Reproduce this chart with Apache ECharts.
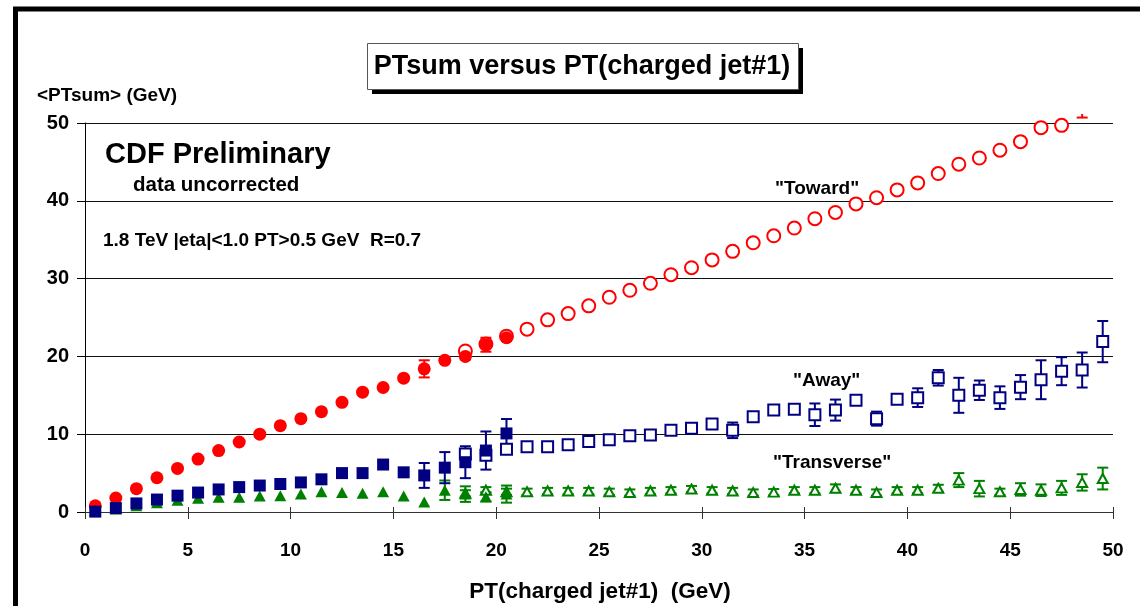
<!DOCTYPE html>
<html><head><meta charset="utf-8">
<script src="https://cdn.jsdelivr.net/npm/echarts@6/dist/echarts.min.js"></script>
<style>html,body{margin:0;padding:0;background:#fff}#c{width:1140px;height:606px}</style>
</head><body><div id="c"></div>
<script>
// ---- data ----
const xLow = [0.5,1.5,2.5,3.5,4.5,5.5,6.5,7.5,8.5,9.5,10.5,11.5,12.5,13.5,14.5,15.5,16.5,17.5,18.5,19.5,20.5];
const xHigh = [18.5,19.5,20.5,21.5,22.5,23.5,24.5,25.5,26.5,27.5,28.5,29.5,30.5,31.5,32.5,33.5,34.5,35.5,36.5,37.5,38.5,39.5,40.5,41.5,42.5,43.5,44.5,45.5,46.5,47.5,48.5,49.5];

const towardLow = [0.8,1.8,3.0,4.4,5.6,6.8,7.9,9.0,10.0,11.1,12.0,12.9,14.1,15.4,16.0,17.2,18.4,19.5,20.0,21.5,22.4];
const towardLowErr = [0,0,0,0,0,0,0,0,0,0,0,0,0,0,0,0,1.1,0,0.4,0.9,0.4];
const towardHigh = [20.7,21.6,22.6,23.5,24.7,25.5,26.5,27.6,28.5,29.4,30.5,31.4,32.4,33.5,34.6,35.5,36.5,37.7,38.5,39.6,40.4,41.4,42.3,43.5,44.7,45.5,46.5,47.6,49.4,49.7,52.5,null];
const towardHighErr = [0,0,0,0,0,0,0,0,0,0,0,0,0,0,0,0,0,0,0,0,0,0,0,0,0,0,0,0,0,0,1.8,0];

const awayLow = [0.05,0.5,1.1,1.6,2.1,2.5,2.9,3.2,3.4,3.6,3.8,4.2,5.0,5.0,6.1,5.1,4.7,5.7,6.4,7.9,10.1];
const awayLowErr = [0,0,0,0,0,0,0,0,0,0,0,0,0,0,0,0,1.6,2.0,2.05,2.45,1.85];
const awayHigh = [7.45,7.3,8.05,8.4,8.4,8.65,9.05,9.3,9.8,9.9,10.5,10.75,11.3,10.5,12.25,13.1,13.2,12.5,13.1,14.35,12.0,14.5,14.7,17.25,15.0,15.65,14.7,16.05,17.0,18.1,18.25,21.9];
const awayHighErr = [0.6,0.5,0,0,0,0,0,0,0,0,0,0,0,1.0,0,0,0,1.45,1.35,0,0.9,0,1.2,1.0,2.25,1.25,1.45,1.55,2.5,1.8,2.25,2.65];

const transLow = [0.2,0.4,0.8,1.2,1.5,1.76,1.9,1.9,2.05,2.1,2.3,2.6,2.5,2.4,2.6,2.05,1.3,2.8,2.3,1.95,2.3];
const transLowErr = [0,0,0,0,0,0,0,0,0,0,0,0,0,0,0,0,0,1.25,1.0,0.6,1.1];
const transHigh = [2.4,2.8,2.6,2.6,2.7,2.7,2.7,2.6,2.5,2.7,2.8,2.95,2.8,2.7,2.5,2.55,2.8,2.8,3.05,2.8,2.5,2.8,2.8,3.05,4.1,3.0,2.6,2.9,2.8,3.1,3.8,4.3];
const transHighErr = [0.4,0.4,0.4,0.4,0.4,0.4,0.4,0.4,0.4,0.4,0.4,0.4,0.4,0.4,0.4,0.4,0.4,0.4,0.5,0.4,0.4,0.4,0.4,0.45,0.9,1.0,0.4,0.8,0.75,0.9,1.05,1.4];

const xTicks = [0,5,10,15,20,25,30,35,40,45,50];
const yTicks = [0,10,20,30,40,50];

const RED = '#ff0000', NAVY = '#000080', GREEN = '#008000';
const FONT = '"Liberation Sans", Arial, sans-serif';

function pts(xs, vs){ return xs.map((x,i)=>[x, vs[i]]).filter(p=>p[1]!=null); }
function errs(xs, vs, es){
  const out = [];
  xs.forEach((x,i)=>{ if (vs[i]!=null && es[i]>0) out.push([x, vs[i]-es[i], vs[i]+es[i]]); });
  return out;
}

function errSeries(data, color){
  return {
    type:'custom', clip:false, silent:true, z:2,
    data: data,
    renderItem: function(params, api){
      const x = api.value(0), lo = api.value(1), hi = api.value(2);
      const p1 = api.coord([x, hi]), p2 = api.coord([x, lo]);
      const top = params.coordSys.y - 9;
      const y1 = Math.max(p1[1], top);
      const hw = 5.5;
      const st = {stroke: color, lineWidth: 2};
      const ch = [{type:'line', shape:{x1:p1[0], y1:y1, x2:p1[0], y2:p2[1]}, style:st}];
      if (p1[1] >= top) ch.push({type:'line', shape:{x1:p1[0]-hw, y1:p1[1], x2:p1[0]+hw, y2:p1[1]}, style:st});
      ch.push({type:'line', shape:{x1:p2[0]-hw, y1:p2[1], x2:p2[0]+hw, y2:p2[1]}, style:st});
      return {type:'group', children: ch};
    }
  };
}
function scat(data, symbol, size, color, open){
  return {
    type:'scatter', data:data, symbol:symbol, symbolSize:size, z:3, clip:true, silent:true,
    itemStyle: open ? {color:'#fff', borderColor:color, borderWidth:2, opacity:1} : {color:color, borderWidth:0, opacity:1}
  };
}

const chart = echarts.init(document.getElementById('c'), null, {renderer:'canvas'});
const txt = (x,y,text,size,align)=>({type:'text', x:x, y:y, style:{text:text, font:'bold '+size+'px '+FONT, fill:'#000', textAlign:align||'left', textVerticalAlign:'middle'}, z:10});

chart.setOption({
  animation:false,
  backgroundColor:'#fff',
  grid:{left:85, right:27, top:123, bottom:94, containLabel:false},
  xAxis:[{
    type:'value', min:0, max:50, interval:5,
    axisLine:{show:true, onZero:false, lineStyle:{color:'#333', width:1}},
    axisTick:{show:true, inside:false, length:7, lineStyle:{color:'#333'}},
    axisLabel:{show:true, margin:29, fontSize:19, fontWeight:'bold', color:'#000', fontFamily:FONT,
      formatter: v => xTicks.indexOf(v)>=0 ? String(v) : ''},
    splitLine:{show:false}
  },{
    type:'value', min:0, max:50, interval:5, position:'bottom',
    axisLine:{show:false}, axisTick:{show:true, inside:true, length:5, lineStyle:{color:'#333'}},
    axisLabel:{show:false}, splitLine:{show:false}
  }],
  yAxis:{
    type:'value', min:0, max:50, interval:10,
    axisLine:{show:true, onZero:false, lineStyle:{color:'#000', width:1}},
    axisTick:{show:true, inside:false, length:8, lineStyle:{color:'#000'}},
    axisLabel:{margin:16, fontSize:20, fontWeight:'bold', color:'#000', fontFamily:FONT,
      formatter: v => yTicks.indexOf(v)>=0 ? String(v) : ''},
    splitLine:{show:true, lineStyle:{color:'#111', width:1}}
  },
  graphic:[
    {type:'rect', shape:{x:15.5, y:9, width:1140, height:610}, style:{fill:'none', stroke:'#000', lineWidth:5}, z:1},
    {type:'rect', shape:{x:372, y:48, width:431, height:46}, style:{fill:'#000'}, z:5},
    {type:'rect', shape:{x:367.5, y:43.5, width:431, height:46}, style:{fill:'#fff', stroke:'#555', lineWidth:1}, z:6},
    txt(582, 67, 'PTsum versus PT(charged jet#1)', 27, 'center'),
    txt(37, 96, '<PTsum> (GeV)', 19),
    txt(105, 155, 'CDF Preliminary', 29),
    txt(133, 185, 'data uncorrected', 20.5),
    txt(103, 241, '1.8 TeV |eta|<1.0 PT>0.5 GeV  R=0.7', 19),
    txt(775, 189, '"Toward"', 19),
    txt(793, 381, '"Away"', 19),
    txt(773, 463, '"Transverse"', 19),
    txt(600, 592, 'PT(charged jet#1)  (GeV)', 22.5, 'center')
  ],
  series:[
    errSeries(errs(xLow, towardLow, towardLowErr), RED),
    errSeries(errs(xHigh, towardHigh, towardHighErr), RED),
    scat(pts(xHigh, towardHigh), 'circle', 13, RED, true),
    scat(pts(xLow, towardLow), 'circle', 13, RED, false),
    errSeries(errs(xLow, transLow, transLowErr), GREEN),
    errSeries(errs(xHigh, transHigh, transHighErr), GREEN),
    scat(pts(xHigh, transHigh), 'triangle', [10,9], GREEN, true),
    scat(pts(xLow, transLow), 'triangle', [12,11], GREEN, false),
    errSeries(errs(xLow, awayLow, awayLowErr), NAVY),
    errSeries(errs(xHigh, awayHigh, awayHighErr), NAVY),
    scat(pts(xHigh, awayHigh), 'rect', 11, NAVY, true),
    scat(pts(xLow, awayLow), 'rect', 12, NAVY, false)
  ]
});
</script></body></html>
